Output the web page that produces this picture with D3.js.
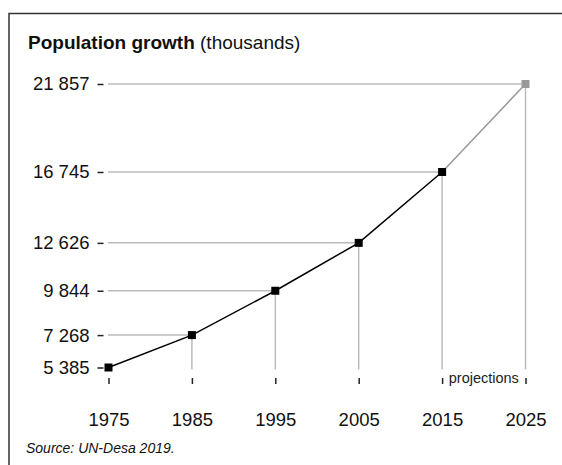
<!DOCTYPE html>
<html>
<head>
<meta charset="utf-8">
<script src="https://cdn.jsdelivr.net/npm/d3@7"></script>
<style>
  body { margin: 0; background: #fff; }
  svg { display: block; font-family: "Liberation Sans", Arial, Helvetica, sans-serif; }
  .axis text { font-size: 18.5px; fill: #111; }
  .axis .domain { display: none; }
  .axis line { stroke: #222; stroke-width: 1.5; }
</style>
</head>
<body>
<div class="root"></div>
<script>
// data
var years = [1975, 1985, 1995, 2005, 2015, 2025];
var population = [5385, 7268, 9844, 12626, 16745, 21857];
var projectionFrom = 2015;

function drawChart() {
  var w = 562, h = 465;

  var svg = d3.select('.root').append('svg')
    .attr('width', w)
    .attr('height', h);

  // frame, top and left only
  svg.append('path')
    .attr('d', 'M9,' + h + 'V13.5H' + w)
    .attr('fill', 'none')
    .attr('stroke', '#333')
    .attr('stroke-width', 1.5);

  var x = d3.scaleLinear().domain([1975, 2025]).range([108.5, 525.5]);
  var y = d3.scaleLinear().domain([5385, 21857]).range([367.5, 84]);

  var data = years.map(function(yr, i) { return {year: yr, value: population[i]}; });
  var fmt = function(d) { return d3.format(',')(d).replace(/,/g, ' '); };

  // guide lines
  var grid = svg.append('g')
    .attr('stroke', '#bbb')
    .attr('stroke-width', 1.5);

  grid.selectAll('.h')
    .data(data)
    .enter().append('line')
      .attr('x1', 108)
      .attr('x2', function(d) { return x(d.year); })
      .attr('y1', function(d) { return y(d.value); })
      .attr('y2', function(d) { return y(d.value); });

  grid.selectAll('.v')
    .data(data.slice(1))
    .enter().append('line')
      .attr('x1', function(d) { return x(d.year); })
      .attr('x2', function(d) { return x(d.year); })
      .attr('y1', function(d) { return y(d.value); })
      .attr('y2', 369.5);

  // y axis: tick values are the data values
  svg.append('g')
    .attr('class', 'axis')
    .attr('transform', 'translate(103.5,0)')
    .call(d3.axisLeft(y)
      .tickValues(population)
      .tickSize(6)
      .tickPadding(8)
      .tickFormat(fmt));

  // x axis
  svg.append('g')
    .attr('class', 'axis')
    .attr('transform', 'translate(0,378)')
    .call(d3.axisBottom(x)
      .tickValues(years)
      .tickSize(6)
      .tickPadding(29)
      .tickFormat(d3.format('d')));

  // line
  var line = d3.line()
    .x(function(d) { return x(d.year); })
    .y(function(d) { return y(d.value); });

  var actual = data.filter(function(d) { return d.year <= projectionFrom; });
  var projected = data.filter(function(d) { return d.year >= projectionFrom; });

  svg.append('path')
    .datum(projected)
    .attr('d', line)
    .attr('fill', 'none')
    .attr('stroke', '#999')
    .attr('stroke-width', 1.5);

  svg.append('path')
    .datum(actual)
    .attr('d', line)
    .attr('fill', 'none')
    .attr('stroke', '#000')
    .attr('stroke-width', 1.5);

  var s = 8;
  svg.selectAll('rect.pt')
    .data(data)
    .enter().append('rect')
      .attr('class', 'pt')
      .attr('x', function(d) { return x(d.year) - s / 2; })
      .attr('y', function(d) { return y(d.value) - s / 2; })
      .attr('width', s)
      .attr('height', s)
      .attr('fill', function(d) { return d.year > projectionFrom ? '#999' : '#000'; });

  svg.append('text')
    .attr('x', (x(2015) + x(2025)) / 2)
    .attr('y', 383)
    .attr('text-anchor', 'middle')
    .attr('font-size', 14.5)
    .attr('fill', '#222')
    .text('projections');

  // title
  var title = svg.append('text')
    .attr('x', 28)
    .attr('y', 49)
    .attr('font-size', 19)
    .attr('fill', '#111');
  title.append('tspan').attr('font-weight', 'bold').text('Population growth');
  title.append('tspan').text(' (thousands)');

  svg.append('text')
    .attr('x', 26)
    .attr('y', 453)
    .attr('font-size', 14)
    .attr('font-style', 'italic')
    .attr('fill', '#111')
    .text('Source: UN-Desa 2019.');
}

window.onload = function() {
  drawChart();
};
</script>
</body>
</html>
